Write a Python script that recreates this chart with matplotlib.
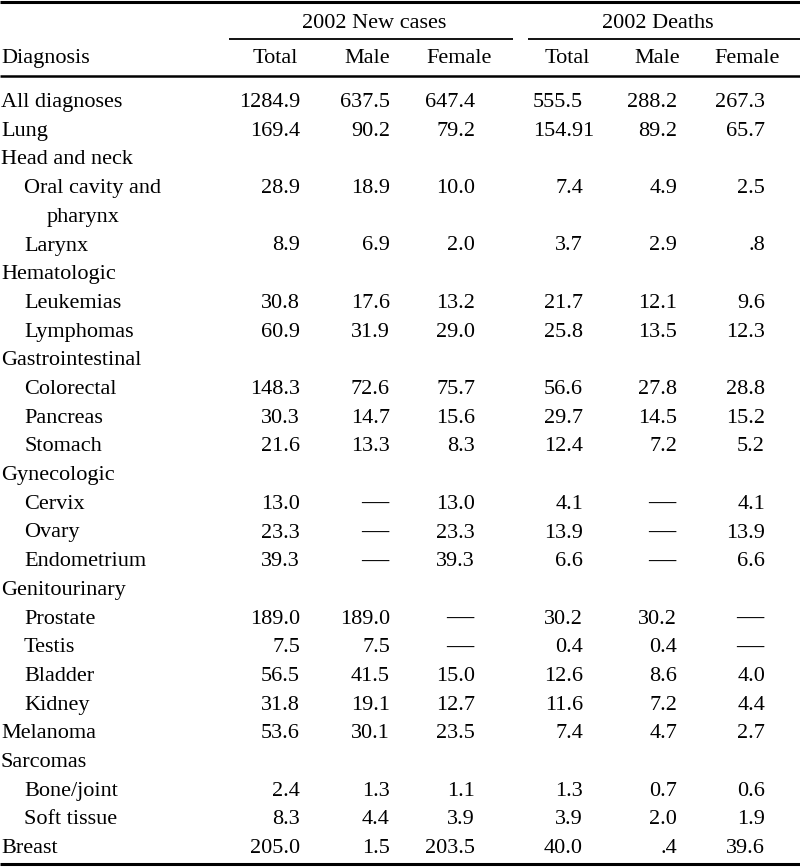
import matplotlib
matplotlib.use("Agg")
import matplotlib.pyplot as plt

# table content
diagnosis = ["All diagnoses", "Lung", "Head and neck", "Oral cavity and", "pharynx", "Larynx",
             "Hematologic", "Leukemias", "Lymphomas", "Gastrointestinal", "Colorectal",
             "Pancreas", "Stomach", "Gynecologic", "Cervix", "Ovary", "Endometrium",
             "Genitourinary", "Prostate", "Testis", "Bladder", "Kidney", "Melanoma",
             "Sarcomas", "Bone/joint", "Soft tissue", "Breast"]
indent = [0, 0, 0, 1, 2, 1, 0, 1, 1, 0, 1, 1, 1, 0, 1, 1, 1, 0, 1, 1, 1, 1, 0, 0, 1, 1, 0]

new_total = ["1284.9", "169.4", "", "28.9", "", "8.9", "", "30.8", "60.9", "", "148.3", "30.3",
             "21.6", "", "13.0", "23.3", "39.3", "", "189.0", "7.5", "56.5", "31.8", "53.6",
             "", "2.4", "8.3", "205.0"]
new_male = ["637.5", "90.2", "", "18.9", "", "6.9", "", "17.6", "31.9", "", "72.6", "14.7",
            "13.3", "", "—", "—", "—", "", "189.0", "7.5", "41.5", "19.1", "30.1",
            "", "1.3", "4.4", "1.5"]
new_female = ["647.4", "79.2", "", "10.0", "", "2.0", "", "13.2", "29.0", "", "75.7", "15.6",
              "8.3", "", "13.0", "23.3", "39.3", "", "—", "—", "15.0", "12.7", "23.5",
              "", "1.1", "3.9", "203.5"]
death_total = ["555.5", "154.91", "", "7.4", "", "3.7", "", "21.7", "25.8", "", "56.6", "29.7",
               "12.4", "", "4.1", "13.9", "6.6", "", "30.2", "0.4", "12.6", "11.6", "7.4",
               "", "1.3", "3.9", "40.0"]
death_male = ["288.2", "89.2", "", "4.9", "", "2.9", "", "12.1", "13.5", "", "27.8", "14.5",
              "7.2", "", "—", "—", "—", "", "30.2", "0.4", "8.6", "7.2", "4.7",
              "", "0.7", "2.0", ".4"]
death_female = ["267.3", "65.7", "", "2.5", "", ".8", "", "9.6", "12.3", "", "28.8", "15.2",
                "5.2", "", "4.1", "13.9", "6.6", "", "—", "—", "4.0", "4.4", "2.7",
                "", "0.6", "1.9", "39.6"]

columns = [new_total, new_male, new_female, death_total, death_male, death_female]
col_headers = ["Total", "Male", "Female", "Total", "Male", "Female"]
groups = ["2002 New cases", "2002 Deaths"]

# layout in pixels
num_right = [300, 390, 475, 583, 677, 765]
head_right = [298, 390, 492, 590, 680, 780]
indent_x = [1, 24, 47]
row_base0 = 107
row_step = 28.7
digit_w = 11.1

plt.rcParams['font.family'] = ['Liberation Serif', 'DejaVu Serif']
fs = 16

fig = plt.figure(figsize=(8, 8.67), dpi=100)
ax = fig.add_axes([0, 0, 1, 1])
ax.set_xlim(0, 800)
ax.set_ylim(867, 0)
ax.axis("off")

# rules
ax.hlines(2, 0, 800, color="black", lw=2.2)
ax.hlines(39, 229, 513, color="black", lw=1.3)
ax.hlines(39, 528, 800, color="black", lw=1.3)
ax.hlines(76, 0, 800, color="black", lw=1.8)
ax.hlines(864, 0, 800, color="black", lw=2.2)

# headers
ax.text(374, 28, groups[0], fontsize=fs, ha="center", va="baseline")
ax.text(658, 28, groups[1], fontsize=fs, ha="center", va="baseline")
ax.text(1, 63, "Diagnosis", fontsize=fs, ha="left", va="baseline")
for x, h in zip(head_right, col_headers):
    ax.text(x, 63, h, fontsize=fs, ha="right", va="baseline")

# body
for i, name in enumerate(diagnosis):
    y = row_base0 + i * row_step
    ax.text(indent_x[indent[i]], y, name, fontsize=fs, ha="left", va="baseline")
    for c, col in enumerate(columns):
        v = col[i]
        if not v:
            continue
        if v == "—":
            ax.text(num_right[c] - 15, y - 5, v, fontsize=19.5, ha="center", va="center")
            continue
        extra = len(v.split(".")[1]) - 1
        ax.text(num_right[c] + extra * digit_w, y, v, fontsize=fs, ha="right", va="baseline")

fig.savefig("out.png", dpi=100)
